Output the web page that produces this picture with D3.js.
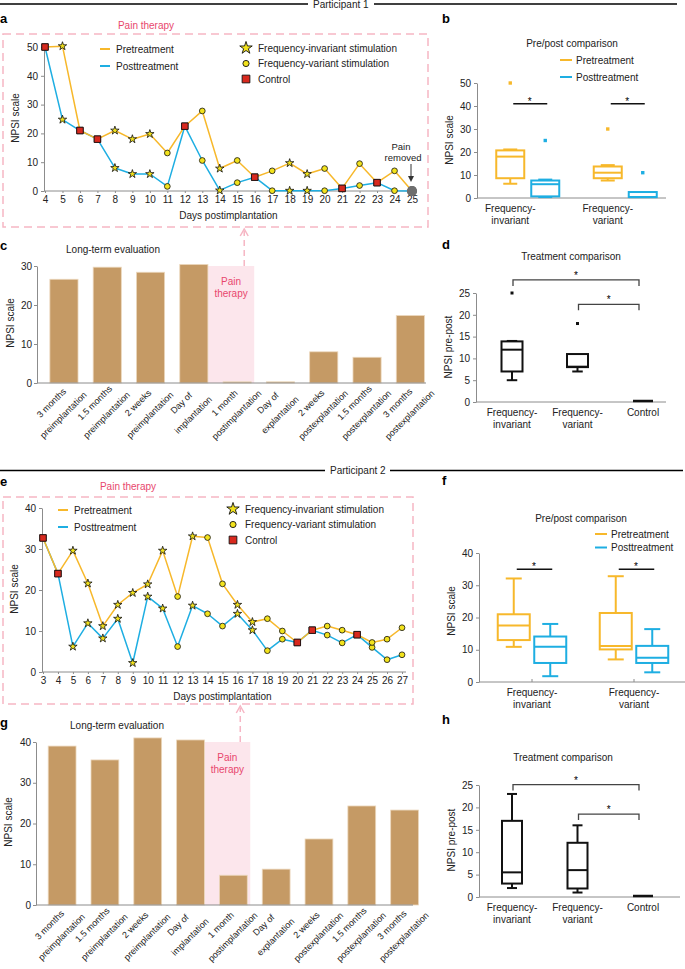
<!DOCTYPE html>
<html>
<head>
<meta charset="utf-8">
<script src="https://cdn.jsdelivr.net/npm/d3@7"></script>
<style>
  body { margin: 0; background: #fff; }
  svg { display: block; font-family: "Liberation Sans", Arial, Helvetica, sans-serif; }
</style>
</head>
<body>
<div id="chart"></div>
<script>
// ---------- data ----------
// stimulation type per day: I = frequency-invariant, V = frequency-variant, C = control, R = pain removed
const days1 = [4, 5, 6, 7, 8, 9, 10, 11, 12, 13, 14, 15, 16, 17, 18, 19, 20, 21, 22, 23, 24, 25];
const pre1  = [50, 50.3, 21, 18, 21, 18, 19.8, 13.2, 22.5, 27.8, 7.8, 10.6, 4.8, 7, 9.7, 5.9, 7.8, 0.9, 9.5, 2.9, 7, 0];
const post1 = [50, 24.8, 21, 18, 8, 5.9, 5.9, 1.6, 22.5, 10.6, 0.2, 2.9, 4.8, 0.1, 0.1, 0.1, 0.1, 0.9, 1.9, 2.9, 0.1, 0];
const stim1 = ["C", "I", "C", "C", "I", "I", "I", "V", "C", "V", "I", "V", "C", "V", "I", "I", "V", "C", "V", "C", "V", "R"];

const days2 = [3, 4, 5, 6, 7, 8, 9, 10, 11, 12, 13, 14, 15, 16, 17, 18, 19, 20, 21, 22, 23, 24, 25, 26, 27];
const pre2  = [32.7, 24, 29.6, 21.6, 11.2, 16.4, 19.3, 21.4, 29.6, 18.4, 33.1, 32.8, 21.5, 16.4, 12.2, 13, 10, 7.2, 10.2, 11.2, 10.2, 9.1, 7.2, 8, 10.8];
const post2 = [32.7, 24, 6.2, 11.9, 8.2, 13, 2.2, 18.4, 15.5, 6.2, 16.2, 14.2, 11.2, 14.2, 10.2, 5.2, 8, 7.2, 10.2, 9, 7.1, 9.1, 6, 3, 4.2];
const stim2 = ["C", "C", "I", "I", "I", "I", "I", "I", "I", "V", "I", "V", "V", "I", "I", "V", "V", "C", "C", "V", "V", "C", "V", "V", "V"];

const groups = ["Frequency-invariant", "Frequency-variant"];
const groupLines = [["Frequency-", "invariant"], ["Frequency-", "variant"]];
const groups3 = ["Frequency-invariant", "Frequency-variant", "Control"];
const group3Lines = [["Frequency-", "invariant"], ["Frequency-", "variant"], ["Control"]];

// box stats: [low whisker, Q1, median, Q3, high whisker]
const preBoxB  = [[6.2, 8.6, 18, 20.7, 21.1], [7.6, 8.6, 11, 13.7, 14.3]];
const postBoxB = [[0.4, 0.7, 6, 7.6, 8], [0.4, 0.4, 0.4, 2.6, 2.6]];
const preOutB  = [50, 30];
const postOutB = [25, 11];
const sigB = [41, 41];

const preBoxF  = [[10.9, 13, 17.5, 21, 32.1], [7, 10.1, 11.2, 21.4, 32.8]];
const postBoxF = [[1.8, 5.9, 10.9, 14.1, 18], [3, 5.9, 7.5, 11.2, 16.4]];
const sigF = [35, 35];

const diffBoxD = [[5, 7, 12, 13.9, 14], [7, 8, 8.1, 11, 11], [0, 0, 0, 0, 0]];
const diffOutD = [25, 18, null];
const bracketD = [[0, 2, 28], [1, 2, 22.4]];

const diffBoxH = [[2, 3, 5.5, 17, 23], [1, 1.9, 6, 12.1, 16], [0, 0, 0, 0, 0]];
const diffOutH = [null, null, null];
const bracketH = [[0, 2, 25.1], [1, 2, 18.5]];

const longLabels = [
  ["3 months", "preimplantation"], ["1.5 months", "preimplantation"], ["2 weeks", "preimplantation"],
  ["Day of", "implantation"], ["1 month", "postimplantation"], ["Day of", "explantation"],
  ["2 weeks", "postexplantation"], ["1.5 months", "postexplantation"], ["3 months", "postexplantation"]
];
const longC = [26.6, 29.7, 28.4, 30.4, 0.3, 0.3, 8, 6.6, 17.3];
const longG = [39, 35.6, 41, 40.5, 7.3, 8.8, 16.2, 24.3, 23.3];

// ---------- styles ----------
const ORANGE = "#f7b82b", BLUE = "#1eaee2", PINK = "#e8476c", PINKLINE = "#f6b6c4",
      PINKFILL = "#fce6ec", BAR = "#c59a65", AXIS = "#8c8c8c", TEXT = "#222";

const svg = d3.select("#chart").append("svg").attr("width", 685).attr("height", 969);

function styleAxis(g) {
  g.attr("font-family", null).attr("font-size", null);
  g.select(".domain").attr("stroke", AXIS);
  g.selectAll(".tick line").attr("stroke", AXIS);
  g.selectAll(".tick text").attr("fill", TEXT).style("font-size", "10px");
}

function text(x, y, t, size, anchor, fill) {
  return svg.append("text").attr("x", x).attr("y", y).attr("text-anchor", anchor || "middle")
    .style("font-size", (size || 10) + "px").attr("fill", fill || TEXT).text(t);
}

function yLabel(x, y, t) {
  svg.append("text").attr("transform", `translate(${x},${y}) rotate(-90)`)
    .attr("text-anchor", "middle").attr("dy", "0.35em").style("font-size", "10px")
    .attr("fill", TEXT).text(t);
}

function letter(x, y, t) {
  text(x, y, t, 13, "start", "#000").style("font-weight", "bold");
}

function multiLine(x, y, lines) {
  const t = svg.append("text").attr("x", x).attr("y", y).attr("text-anchor", "middle")
    .style("font-size", "10px").attr("fill", TEXT);
  lines.forEach((s, i) => t.append("tspan").attr("x", x).attr("dy", i ? "1.2em" : 0).text(s));
}

function divider(y, x0, x1, x2, label) {
  svg.append("line").attr("x1", 0).attr("x2", x0).attr("y1", y).attr("y2", y).attr("stroke", "#000").attr("stroke-width", 1.5);
  svg.append("line").attr("x1", x1).attr("x2", x2).attr("y1", y).attr("y2", y).attr("stroke", "#000").attr("stroke-width", 1.5);
  text(x0 + 5, y + 3.5, label, 10, "start");
}

const markerSize = { I: 22, V: 26, C: 42, R: 80 };
const legendSize = { I: 48, V: 30, C: 60 };
const markerShape = { I: d3.symbolStar, V: d3.symbolCircle, C: d3.symbolSquare, R: d3.symbolCircle };
const markerFill = { I: "#f2e21c", V: "#f2e21c", C: "#d8291e", R: "#6e6e6e" };

// ---------- panels a / e: daily time course ----------
function timeline(o) {
  const x = d3.scaleLinear().domain([o.days[0], o.days[o.days.length - 1]]).range(o.xr);
  const y = d3.scaleLinear().domain([0, o.ymax]).range(o.yr);

  svg.append("rect").attr("x", o.box[0]).attr("y", o.box[1])
    .attr("width", o.box[2] - o.box[0]).attr("height", o.box[3] - o.box[1])
    .attr("fill", "none").attr("stroke", PINKLINE).attr("stroke-width", 1.5).attr("stroke-dasharray", "8,5");
  text(o.painX, o.painY, "Pain therapy", 10, "middle", PINK);

  const gy = svg.append("g").attr("transform", `translate(${o.xr[0] - 1},0)`)
    .call(d3.axisLeft(y).tickValues(o.yTicks).tickSize(3).tickPadding(3).tickSizeOuter(0));
  styleAxis(gy);
  const gx = svg.append("g").attr("transform", `translate(0,${o.yr[0]})`)
    .call(d3.axisBottom(x).tickValues(o.days).tickFormat(d3.format("d")).tickSize(2).tickPadding(3).tickSizeOuter(0));
  styleAxis(gx);
  gx.select(".domain").attr("d", `M${o.xr[0] - 1},0H${o.xr[1] + 4}`);

  yLabel(o.ylabX, (o.yr[0] + o.yr[1]) / 2 - 1, "NPSI scale");
  text((o.xr[0] + o.xr[1]) / 2, o.yr[0] + 28, "Days postimplantation");

  const line = d3.line().x((d, i) => x(o.days[i])).y(d => y(d));
  [[o.post, BLUE], [o.pre, ORANGE]].forEach(([vals, c]) => {
    svg.append("path").datum(vals).attr("d", line).attr("fill", "none")
      .attr("stroke", c).attr("stroke-width", 1.5).attr("stroke-linejoin", "round");
  });
  [o.post, o.pre].forEach(vals => {
    svg.append("g").selectAll("path").data(vals).join("path")
      .attr("transform", (d, i) => `translate(${x(o.days[i])},${y(d)})`)
      .attr("d", (d, i) => d3.symbol(markerShape[o.stim[i]], markerSize[o.stim[i]])())
      .attr("fill", (d, i) => markerFill[o.stim[i]])
      .attr("stroke", (d, i) => o.stim[i] === "R" ? "none" : "#111")
      .attr("stroke-width", 0.8);
  });

  // legends
  const L = o.leg;
  [[ORANGE, "Pretreatment"], [BLUE, "Posttreatment"]].forEach(([c, t], i) => {
    svg.append("line").attr("x1", L.x).attr("x2", L.x + 10).attr("y1", L.y + i * 17).attr("y2", L.y + i * 17)
      .attr("stroke", c).attr("stroke-width", 2);
    text(L.x + 16, L.y + i * 17 + 3.5, t, 10, "start");
  });
  [["I", "Frequency-invariant stimulation"], ["V", "Frequency-variant stimulation"], ["C", "Control"]]
    .forEach(([k, t], i) => {
      const yy = L.y - 1 + i * 15.5;
      svg.append("path").attr("transform", `translate(${L.x2},${yy})`)
        .attr("d", d3.symbol(markerShape[k], legendSize[k])())
        .attr("fill", markerFill[k]).attr("stroke", "#111").attr("stroke-width", 0.9);
      text(L.x2 + 12, yy + 3.5, t, 10, "start");
    });
  return { x, y };
}

// ---------- panels b / f: pre/post boxes ----------
function drawBox(y, cx, w, s, color, sw) {
  const g = svg.append("g").attr("stroke", color).attr("stroke-width", sw).attr("fill", "none");
  const [lo, q1, med, q3, hi] = s;
  if (lo < q1) {
    g.append("line").attr("x1", cx).attr("x2", cx).attr("y1", y(lo)).attr("y2", y(q1));
    g.append("line").attr("x1", cx - w / 4).attr("x2", cx + w / 4).attr("y1", y(lo)).attr("y2", y(lo));
  }
  if (hi > q3) {
    g.append("line").attr("x1", cx).attr("x2", cx).attr("y1", y(q3)).attr("y2", y(hi));
    g.append("line").attr("x1", cx - w / 4).attr("x2", cx + w / 4).attr("y1", y(hi)).attr("y2", y(hi));
  }
  g.append("rect").attr("x", cx - w / 2).attr("y", y(q3)).attr("width", w).attr("height", Math.max(0, y(q1) - y(q3)));
  g.append("line").attr("x1", cx - w / 2).attr("x2", cx + w / 2).attr("y1", y(med)).attr("y2", y(med));
}

function prepost(o) {
  const x = d3.scaleBand().domain(groups).range(o.xr);
  const y = d3.scaleLinear().domain([0, o.ymax]).range(o.yr);
  const cx = g => x(g) + x.bandwidth() / 2;

  const gy = svg.append("g").attr("transform", `translate(${o.axisX},0)`)
    .call(d3.axisLeft(y).ticks(5).tickSize(3).tickPadding(3).tickSizeOuter(0));
  styleAxis(gy);
  const gx = svg.append("g").attr("transform", `translate(0,${y(0)})`)
    .call(d3.axisBottom(x).tickValues(groups).tickFormat("").tickSize(o.xTick).tickSizeOuter(0));
  styleAxis(gx);
  gx.selectAll(".tick").attr("transform", d => `translate(${cx(d) + o.labOff},0)`);
  gx.select(".domain").attr("d", `M${o.axisX},0H${o.xEnd}`);

  groups.forEach((g, i) => {
    multiLine(cx(g) + o.labOff, y(0) + 13.5, groupLines[i]);
    drawBox(y, cx(g) - o.off, o.w, o.pre[i], ORANGE, 2);
    drawBox(y, cx(g) + o.off, o.w, o.post[i], BLUE, 2);
    if (o.preOut) {
      svg.append("rect").attr("x", cx(g) - o.off - 1.7).attr("y", y(o.preOut[i]) - 1.7)
        .attr("width", 3.4).attr("height", 3.4).attr("fill", ORANGE);
      svg.append("rect").attr("x", cx(g) + o.off - 1.7).attr("y", y(o.postOut[i]) - 1.7)
        .attr("width", 3.4).attr("height", 3.4).attr("fill", BLUE);
    }
    svg.append("line").attr("x1", cx(g) - o.off + 3).attr("x2", cx(g) + o.off + 2)
      .attr("y1", y(o.sig[i])).attr("y2", y(o.sig[i])).attr("stroke", "#111").attr("stroke-width", 1.5);
    text(cx(g) + 2, y(o.sig[i]) + 1, "*", 10, "middle", "#000");
  });

  yLabel(o.axisX - 28, o.ylabY, "NPSI scale");
  text(o.titleX, o.titleY, "Pre/post comparison");
  const L = o.leg;
  [[ORANGE, "Pretreatment"], [BLUE, "Posttreatment"]].forEach(([c, t], i) => {
    svg.append("line").attr("x1", L.x).attr("x2", L.x + 12).attr("y1", L.y + i * L.dy).attr("y2", L.y + i * L.dy)
      .attr("stroke", c).attr("stroke-width", 2);
    text(L.x + 16, L.y + i * L.dy + 3.5, t, 10, "start");
  });
}

// ---------- panels d / h: treatment comparison ----------
function diffPanel(o) {
  const x = d3.scalePoint().domain(groups3).range(o.xr);
  const y = d3.scaleLinear().domain([0, 25]).range(o.yr);

  const gy = svg.append("g").attr("transform", `translate(${o.axisX},0)`)
    .call(d3.axisLeft(y).tickValues([0, 5, 10, 15, 20, 25]).tickSize(3).tickPadding(3).tickSizeOuter(0));
  styleAxis(gy);
  svg.append("line").attr("x1", o.axisX).attr("x2", o.xEnd).attr("y1", y(0)).attr("y2", y(0)).attr("stroke", AXIS);

  groups3.forEach((g, i) => {
    multiLine(x(g), y(0) + 13.5, group3Lines[i]);
    const s = o.stats[i];
    if (s[4] === 0) {
      svg.append("line").attr("x1", x(g) - 10).attr("x2", x(g) + 10).attr("y1", y(0) - 1).attr("y2", y(0) - 1)
        .attr("stroke", "#111").attr("stroke-width", 2.5);
    } else {
      drawBox(y, x(g), o.w, s, "#111", 2);
    }
    if (o.out[i] != null) {
      svg.append("rect").attr("x", x(g) - 1.5).attr("y", y(o.out[i]) - 1.5)
        .attr("width", 3).attr("height", 3).attr("fill", "#111");
    }
  });

  o.brackets.forEach(([a, b, v]) => {
    const x0 = x(groups3[a]) + 1, x1 = x(groups3[b]) - 4, yy = y(v);
    svg.append("path").attr("d", `M${x0},${yy + 6}V${yy}H${x1}V${yy + 6}`)
      .attr("fill", "none").attr("stroke", "#444").attr("stroke-width", 1.3);
    text((x0 + x1) / 2, yy - 1, "*", 10, "middle", "#000");
  });

  yLabel(o.axisX - 28, o.ylabY, "NPSI pre-post");
  text(o.titleX, o.titleY, "Treatment comparison");
}

// ---------- panels c / g: long-term bars ----------
function longTerm(o) {
  const names = longLabels.map(l => l.join(" "));
  const x = d3.scaleBand().domain(names).range(o.xr).paddingInner(0.35).paddingOuter(0.175);
  const y = d3.scaleLinear().domain([0, o.ymax]).range(o.yr);

  // pain therapy shading spans the "1 month postimplantation" slot
  const p0 = x(names[3]) + x.bandwidth(), p1 = x(names[4]) + x.bandwidth() + 3;
  svg.append("rect").attr("x", p0).attr("y", y(o.ymax)).attr("width", p1 - p0)
    .attr("height", y(0) - y(o.ymax)).attr("fill", PINKFILL);
  const pc = (p0 + p1) / 2;
  text(pc, y(o.ymax) + 19, "Pain", 10, "middle", PINK);
  text(pc, y(o.ymax) + 31, "therapy", 10, "middle", PINK);

  // dashed arrow up to the daily panel
  const ax = p1 - 10;
  svg.append("line").attr("x1", ax).attr("x2", ax).attr("y1", y(o.ymax)).attr("y2", o.arrowTip + 2)
    .attr("stroke", PINKLINE).attr("stroke-width", 1.5).attr("stroke-dasharray", "6,4");
  svg.append("path").attr("d", `M${ax - 4},${o.arrowTip + 7}L${ax},${o.arrowTip}L${ax + 4},${o.arrowTip + 7}`)
    .attr("fill", "none").attr("stroke", PINKLINE).attr("stroke-width", 1.5);

  svg.append("g").selectAll("rect").data(o.values).join("rect")
    .attr("x", (d, i) => x(names[i])).attr("y", d => y(d))
    .attr("width", x.bandwidth()).attr("height", d => y(0) - y(d))
    .attr("fill", BAR).attr("stroke", "#ecd8bd").attr("stroke-width", 0.8);

  const gy = svg.append("g").attr("transform", `translate(${o.axisX},0)`)
    .call(d3.axisLeft(y).ticks(o.ymax / 10).tickSize(3).tickPadding(2).tickSizeOuter(0));
  styleAxis(gy);
  const gx = svg.append("g").attr("transform", `translate(0,${y(0)})`)
    .call(d3.axisBottom(x).tickFormat("").tickSize(0));
  styleAxis(gx);
  gx.select(".domain").attr("d", `M${o.axisX},0H${o.xEnd}`);

  // rotated two-line labels, each line centred, second line shifted down-right
  longLabels.forEach((lines, i) => {
    const bx = x(names[i]) + x.bandwidth() / 2;
    lines.forEach((s, k) => {
      const lx = bx + (k ? -0.5 : -12.5), ly = y(0) + (k ? 32 : 20);
      svg.append("text").attr("x", lx).attr("y", ly + 3)
        .attr("transform", `rotate(-45 ${lx} ${ly})`)
        .attr("text-anchor", "middle")
        .style("font-size", "9px").attr("fill", TEXT).text(s);
    });
  });

  yLabel(o.ylabX, o.ylabY, "NPSI scale");
  text(o.titleX, o.titleY, "Long-term evaluation");
}

// ---------- participant 1 ----------
divider(4, 308, 374, 677, "Participant 1");
letter(0, 23, "a");
timeline({
  days: days1, pre: pre1, post: post1, stim: stim1, ymax: 50, yTicks: [0, 10, 20, 30, 40, 50],
  xr: [45, 412], yr: [191, 47], box: [3, 34, 428, 227], painX: 146, painY: 28.5, ylabX: 15,
  leg: { x: 100, y: 49, x2: 246 }
});
text(401, 149.5, "Pain", 9.5, "middle");
text(403, 160.5, "removed", 9.5, "middle");
svg.append("line").attr("x1", 411).attr("x2", 411).attr("y1", 164).attr("y2", 177).attr("stroke", "#333").attr("stroke-width", 1);
svg.append("path").attr("d", "M408,176L414,176L411,182Z").attr("fill", "#333");

letter(442, 23, "b");
prepost({
  pre: preBoxB, post: postBoxB, preOut: preOutB, postOut: postOutB, sig: sigB,
  ymax: 50, xr: [479, 674], yr: [198, 83], axisX: 477, xEnd: 666, xTick: 0,
  off: 17.5, w: 28, labOff: -17.5, ylabY: 140, titleX: 572, titleY: 46.5,
  leg: { x: 560, y: 60, dy: 17 }
});

letter(0, 250, "c");
longTerm({
  values: longC, ymax: 30, xr: [42.3, 432], yr: [383, 266], axisX: 37, xEnd: 426,
  arrowTip: 229, ylabX: 10, ylabY: 323, titleX: 113, titleY: 252.5
});

letter(442, 249, "d");
diffPanel({
  stats: diffBoxD, out: diffOutD, brackets: bracketD, xr: [512, 643], yr: [402, 293],
  axisX: 476, xEnd: 666, w: 21, ylabY: 347, titleX: 571, titleY: 259.5
});

// ---------- participant 2 ----------
divider(470.5, 325, 390, 683, "Participant 2");
letter(0, 486, "e");
timeline({
  days: days2, pre: pre2, post: post2, stim: stim2, ymax: 40, yTicks: [0, 10, 20, 30, 40],
  xr: [43, 402], yr: [672, 508], box: [3, 497, 413, 704], painX: 128, painY: 489.5, ylabX: 14,
  leg: { x: 58, y: 510, x2: 233 }
});

letter(442, 485, "f");
prepost({
  pre: preBoxF, post: postBoxF, sig: sigF,
  ymax: 40, xr: [481, 685], yr: [682, 553], axisX: 479, xEnd: 685, xTick: -3,
  off: 18.25, w: 32, labOff: 0, ylabY: 611, titleX: 581, titleY: 521.5,
  leg: { x: 595, y: 534, dy: 13.5 }
});

letter(0, 727, "g");
longTerm({
  values: longG, ymax: 40, xr: [40.7, 426], yr: [905, 742], axisX: 36, xEnd: 413,
  arrowTip: 706, ylabX: 8, ylabY: 822, titleX: 117, titleY: 728.5
});

letter(442, 724, "h");
diffPanel({
  stats: diffBoxH, out: diffOutH, brackets: bracketH, xr: [512, 643], yr: [897, 785],
  axisX: 479, xEnd: 680, w: 20, ylabY: 840, titleX: 563, titleY: 760.5
});
</script>
</body>
</html>
